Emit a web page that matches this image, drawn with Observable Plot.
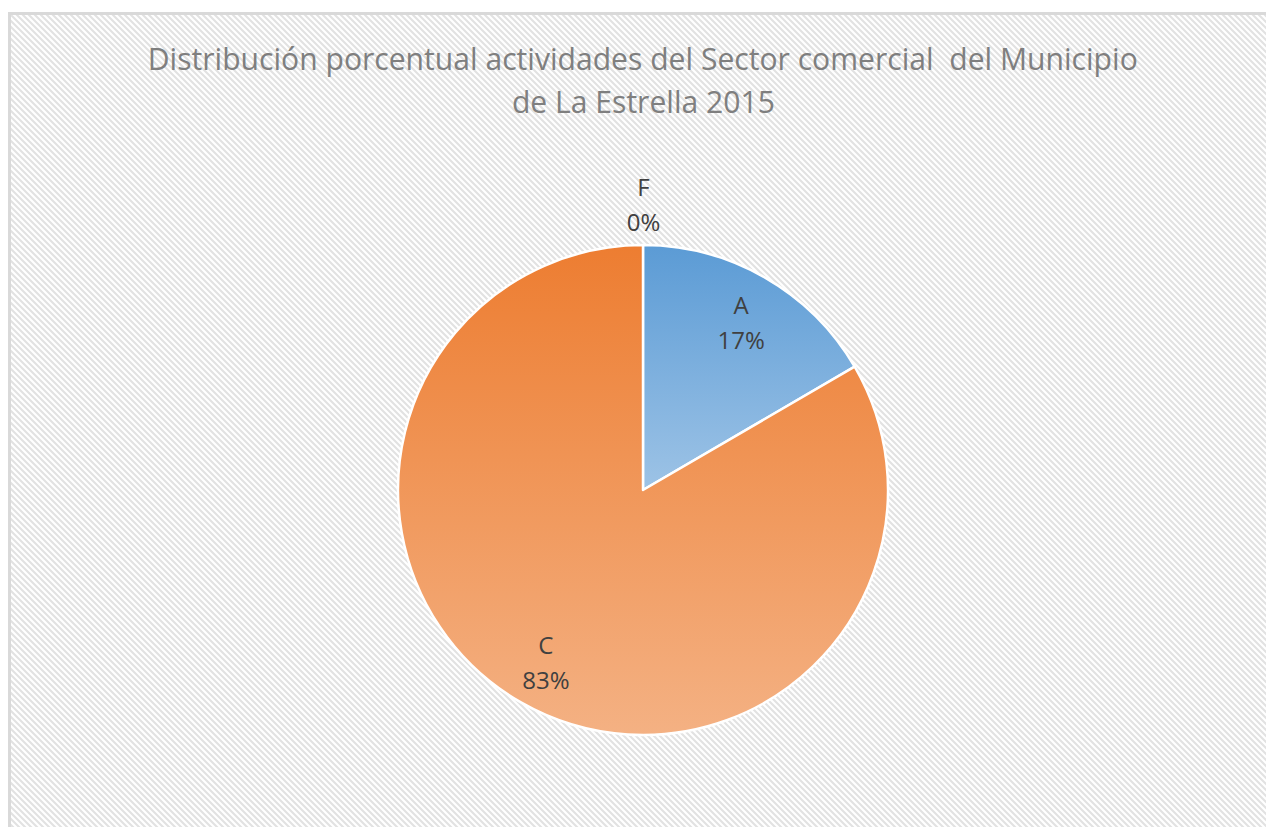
<!DOCTYPE html>
<html>
<head>
<meta charset="utf-8">
<script src="https://cdn.jsdelivr.net/npm/d3@7"></script>
<script src="https://cdn.jsdelivr.net/npm/@observablehq/plot@0.6"></script>
<style>
  html, body { margin: 0; padding: 0; background: #ffffff; overflow: hidden; width: 1266px; height: 827px; }
  #frame {
    position: absolute; left: 8px; top: 12px; width: 1270px; height: 830px;
    border: 3px solid #d9d9d9;
    background-color: #ffffff;
    background-image: url("data:image/svg+xml;utf8,<svg xmlns='http://www.w3.org/2000/svg' width='6' height='6'><path d='M-1,-1 L7,7 M-1,5 L1,7 M5,-1 L7,1' stroke='%23e2e2e2' stroke-width='2.1' fill='none'/></svg>");
    background-size: 6px 6px;
  }
  #title {
    position: absolute; left: 10px; top: 37px; width: 1266px; text-align: center;
    font-family: "Open Sans", sans-serif; font-size: 31px; line-height: 43px;
    color: #7f7f7f; white-space: pre;
  }
  #title span { display: inline-block; transform-origin: 50% 50%; }
  #chart { position: absolute; left: 0; top: 150px; }
</style>
</head>
<body>
<div id="frame"></div>
<div id="title"><span id="t1"></span><br><span id="t2"></span></div>
<div id="chart"></div>
<script>
// ---- data ----
const titleLines = ["Distribución porcentual actividades del Sector comercial  del Municipio", "de La Estrella 2015"];
const categories = ["A", "C", "F"];
const shares = [0.166, 0.834, 0.0];
const colorsTop = ["#5b9bd5", "#ed7d31", "#a5a5a5"];
const colorsBottom = ["#9dc3e6", "#f4b183", "#d0d0d0"];

// ---- title (fit to Calibri-like width) ----
const t1 = document.getElementById("t1"), t2 = document.getElementById("t2");
t1.textContent = titleLines[0];
t2.textContent = titleLines[1];
const w1 = t1.getBoundingClientRect().width;
const sx = 990 / w1;
t1.style.transform = `scaleX(${sx})`;
t2.style.transform = `scaleX(${sx})`;

// ---- layout ----
const W = 1266, H = 677, CX = 643, CY = 340, R = 245;

const rows = categories.map((c, i) => ({cat: c, value: shares[i], top: colorsTop[i], bottom: colorsBottom[i]}));
const arcs = d3.pie().sort(null).value(d => d.value).startAngle(0).endAngle(2 * Math.PI)(rows);
const fmt = d3.format(".0%");
const labelRows = arcs.map(a => {
  const mid = (a.startAngle + a.endAngle) / 2;
  const k = a.endAngle - a.startAngle < 0.01 ? 1.175 : 0.8;
  return {x: k * Math.sin(mid), y: k * Math.cos(mid), text: `${a.data.cat}\n${fmt(a.data.value)}`};
});

function pieMark(index, scales) {
  const sxs = scales && scales.x, sys = scales && scales.y;
  const cx = sxs ? sxs(0) : CX, cy = sys ? sys(0) : CY;
  const r = sxs ? sxs(1) - sxs(0) : R;
  const g = d3.create("svg:g");
  const defs = g.append("defs");
  rows.forEach(d => {
    const lg = defs.append("linearGradient").attr("id", "grad-" + d.cat)
      .attr("x1", 0).attr("y1", 0).attr("x2", 0).attr("y2", 1);
    lg.append("stop").attr("offset", "0%").attr("stop-color", d.top);
    lg.append("stop").attr("offset", "100%").attr("stop-color", d.bottom);
  });
  const arc = d3.arc().innerRadius(0).outerRadius(r);
  g.append("g").attr("transform", `translate(${cx},${cy})`)
    .selectAll("path")
    .data(arcs.filter(a => a.endAngle - a.startAngle > 1e-6))
    .join("path")
    .attr("d", arc)
    .attr("fill", d => `url(#grad-${d.data.cat})`)
    .attr("stroke", "#ffffff")
    .attr("stroke-width", 2.5)
    .attr("stroke-linejoin", "round");
  return g.node();
}

const plot = Plot.plot({
  width: W,
  height: H,
  margin: 0,
  style: "background: transparent; overflow: visible;",
  x: {domain: [-CX / R, (W - CX) / R], axis: null},
  y: {domain: [(CY - H) / R, CY / R], axis: null},
  marks: [
    pieMark,
    Plot.text(labelRows, {
      x: "x", y: "y", text: "text",
      fontSize: 24, lineHeight: 1.46,
      fill: "#404040",
      fontFamily: "Open Sans, sans-serif"
    })
  ]
});
document.getElementById("chart").appendChild(plot);
</script>
</body>
</html>
